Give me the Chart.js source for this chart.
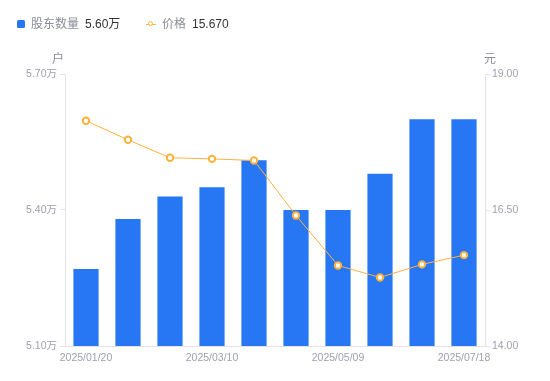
<!DOCTYPE html>
<html>
<head>
<meta charset="utf-8">
<script src="https://cdn.jsdelivr.net/npm/chart.js@4/dist/chart.umd.min.js"></script>
<style>
  html, body { margin: 0; padding: 0; background: #fff; }
  #wrap { position: relative; width: 550px; height: 381px; font-family: "Liberation Sans", "Noto Sans CJK SC", sans-serif; }
  #chart { position: absolute; left: 0; top: 0; }
  .leg { position: absolute; top: 16px; height: 16px; line-height: 16px; font-size: 12px; white-space: nowrap; }
  .leg .name { color: #8a8c99; }
  .leg .val { color: #333; margin-left: 6px; }
  .sq { display: inline-block; width: 8px; height: 8px; background: #2777F5; border-radius: 1.5px; vertical-align: -0px; margin-right: 6px; }
  .ln { display: inline-block; position: relative; width: 10px; height: 8px; margin-right: 6px; vertical-align: 0px; }
  .ln::before { content: ""; position: absolute; left: 0; right: 0; top: 3.5px; height: 1px; background: #FFB13B; }
  .ln::after { content: ""; position: absolute; left: 2px; top: 1px; width: 3px; height: 3px; border: 1.5px solid #FFB13B; border-radius: 50%; background: #fff; }
</style>
</head>
<body>
<div id="wrap">
  <canvas id="chart" width="550" height="381"></canvas>
  <div class="leg" style="left:17px;"><span class="sq"></span><span class="name">股东数量</span><span class="val" id="v1"></span></div>
  <div class="leg" style="left:146px;"><span class="ln"></span><span class="name">价格</span><span class="val" id="v2"></span></div>
</div>
<script>
const dates = ["2025/01/20","2025/02/10","2025/02/28","2025/03/10","2025/03/31","2025/04/18","2025/05/09","2025/05/30","2025/06/20","2025/07/18"];
const holders = [5.27, 5.38, 5.43, 5.45, 5.51, 5.40, 5.40, 5.48, 5.60, 5.60];   // 万户
const prices = [18.14, 17.79, 17.46, 17.44, 17.41, 16.40, 15.48, 15.26, 15.50, 15.67]; // 元
const leftTicks = [5.10, 5.40, 5.70];
const rightTicks = [14.00, 16.50, 19.00];
const shownLabelIdx = [0, 3, 6, 9];

document.getElementById('v1').textContent = holders[holders.length-1].toFixed(2) + '万';
document.getElementById('v2').textContent = prices[prices.length-1].toFixed(3);

const tickColor = '#9d9fb0';
const axisColor = '#e4e4e8';
const tickFont = { family: '"Liberation Sans", "Noto Sans CJK SC", sans-serif', size: 10.5 };

const axisTitles = {
  id: 'axisTitles',
  afterDraw(chart) {
    const ctx = chart.ctx;
    const a = chart.chartArea;
    ctx.save();
    ctx.fillStyle = '#8a8c99';
    ctx.font = '12px "Noto Sans CJK SC", sans-serif';
    ctx.textAlign = 'center';
    ctx.textBaseline = 'middle';
    ctx.fillText('户', a.left - 7, a.top - 16);
    ctx.fillText('元', a.right + 5, a.top - 16);
    ctx.restore();
  }
};

new Chart(document.getElementById('chart'), {
  data: {
    labels: dates,
    datasets: [
      {
        type: 'line', label: '价格', data: prices, yAxisID: 'y1', order: 0,
        borderColor: '#FFB13B', borderWidth: 1, tension: 0,
        pointRadius: 3.2, pointBorderWidth: 2, pointBackgroundColor: '#fff', pointBorderColor: '#FFB13B'
      },
      {
        type: 'bar', label: '股东数量', data: holders, yAxisID: 'y', order: 1,
        backgroundColor: '#2777F5', barPercentage: 0.6, categoryPercentage: 1.0
      }
    ]
  },
  options: {
    responsive: false, animation: false,
    layout: { padding: { top: 74, left: 0, right: 0, bottom: 0 } },
    plugins: { legend: { display: false }, tooltip: { enabled: false } },
    scales: {
      x: {
        grid: { display: false, drawTicks: false },
        border: { display: true, color: axisColor },
        ticks: {
          autoSkip: false, maxRotation: 0, color: tickColor, font: tickFont, padding: 6,
          callback: function(v, i) { return shownLabelIdx.includes(i) ? dates[i] : ''; }
        },
        afterFit(s) { s.height = 35; }
      },
      y: {
        position: 'left', min: 5.10, max: 5.70,
        grid: { drawOnChartArea: false, drawTicks: true, tickLength: 5, color: axisColor },
        border: { display: true, color: axisColor },
        ticks: { color: tickColor, font: tickFont, padding: 3, callback: v => v.toFixed(2) + '万' },
        afterBuildTicks(s) { s.ticks = leftTicks.map(v => ({ value: v })); },
        afterFit(s) { s.width = 65; }
      },
      y1: {
        position: 'right', min: 14, max: 19,
        grid: { drawOnChartArea: false, drawTicks: true, tickLength: 5, color: axisColor },
        border: { display: true, color: axisColor },
        ticks: { color: tickColor, font: tickFont, padding: 2, callback: v => v.toFixed(2) },
        afterBuildTicks(s) { s.ticks = rightTicks.map(v => ({ value: v })); },
        afterFit(s) { s.width = 65; }
      }
    }
  },
  plugins: [axisTitles]
});
</script>
</body>
</html>
